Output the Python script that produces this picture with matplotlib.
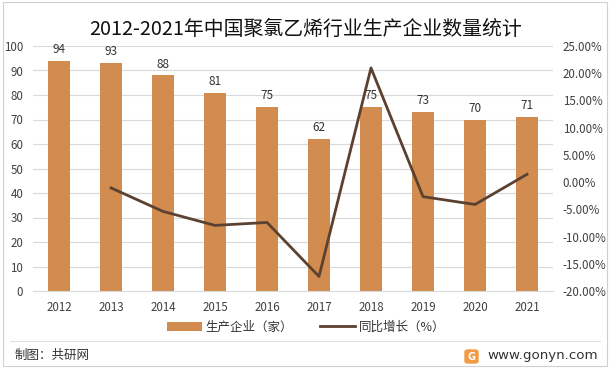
import matplotlib
matplotlib.use("Agg")
import matplotlib.pyplot as plt
from matplotlib.patches import Rectangle, FancyBboxPatch
from matplotlib.ticker import FuncFormatter

plt.rcParams['font.family'] = ['Noto Sans CJK SC', 'DejaVu Sans']

# data
years = ['2012', '2013', '2014', '2015', '2016', '2017', '2018', '2019', '2020', '2021']
companies = [94, 93, 88, 81, 75, 62, 75, 73, 70, 71]
growth_years = years[1:]
growth = [-1.06, -5.38, -7.95, -7.41, -17.33, 20.97, -2.67, -4.11, 1.43]

bar_color = '#D38C4F'
line_color = '#5C4130'
W, H = 612, 371

fig = plt.figure(figsize=(6.12, 3.71), dpi=100)
ax = fig.add_axes([33 / W, 1 - 291 / H, 520 / W, 245 / H])

x = list(range(len(years)))
ax.bar(x, companies, width=0.41, color=bar_color, label='生产企业（家）', zorder=2)
for xi, v in zip(x, companies):
    ax.text(xi, v + 2, str(v), ha='center', va='bottom', fontsize=8.5, color='#333333')

ax.set_ylim(0, 100)
ax.set_yticks(range(0, 101, 10))
ax.set_xlim(-0.5, len(years) - 0.5)
ax.set_xticks(x)
ax.set_xticklabels(years)
ax.grid(axis='y', color='#D9D9D9', linewidth=0.8, zorder=0)
for s in ['top', 'right', 'left']:
    ax.spines[s].set_visible(False)
ax.spines['bottom'].set_color('#D9D9D9')
ax.tick_params(axis='both', length=0, labelsize=8.3, colors='#404040')
ax.tick_params(axis='y', pad=7)
ax.tick_params(axis='x', pad=7)

ax2 = ax.twinx()
gx = [years.index(y) for y in growth_years]
ax2.plot(gx, growth, color=line_color, linewidth=2, label='同比增长（%）', zorder=3)
ax2.set_ylim(-20, 25)
ax2.set_yticks(range(-20, 26, 5))
ax2.yaxis.set_major_formatter(FuncFormatter(lambda v, p: f'{v:.2f}%'))
for s in ax2.spines.values():
    s.set_visible(False)
ax2.tick_params(axis='y', length=0, labelsize=8.3, colors='#404040', pad=7)

h1, l1 = ax.get_legend_handles_labels()
h2, l2 = ax2.get_legend_handles_labels()
fig.legend(h1 + h2, l1 + l2, loc='center', bbox_to_anchor=(0.5, 1 - 327 / H), ncol=2,
           frameon=False, fontsize=9, handlelength=2.8, handletextpad=0.3,
           columnspacing=2.2, labelcolor='#333333')

fig.text(0.5, 1 - 29 / H, '2012-2021年中国聚氯乙烯行业生产企业数量统计',
         ha='center', va='center', fontsize=14.3, color='#111111')

# footer
fig.add_artist(plt.Line2D([10 / W, 600 / W], [1 - 341 / H] * 2,
                          color='#E0E0E0', linewidth=0.8))
fig.text(15 / W, 1 - 355 / H, '制图：共研网', ha='left', va='center',
         fontsize=9, color='#333333')
fig.add_artist(FancyBboxPatch((465 / W, 1 - 363 / H), 13 / W, 13 / H,
                              boxstyle='round,pad=0,rounding_size=0.005',
                              color='#F39A45', transform=fig.transFigure))
fig.text(471.5 / W, 1 - 356.5 / H, 'G', ha='center', va='center', fontsize=7,
         color='white', fontweight='bold', family='DejaVu Sans')
fig.text(598 / W, 1 - 355 / H, 'www.gonyn.com', ha='right', va='center',
         fontsize=9.6, color='#333333', family='DejaVu Sans')

fig.add_artist(Rectangle((3 / W, 1 - 366 / H), 604 / W, 364 / H, fill=False,
                         edgecolor='#D0D0D0', linewidth=0.8, transform=fig.transFigure))

fig.savefig('out.png', dpi=100)
